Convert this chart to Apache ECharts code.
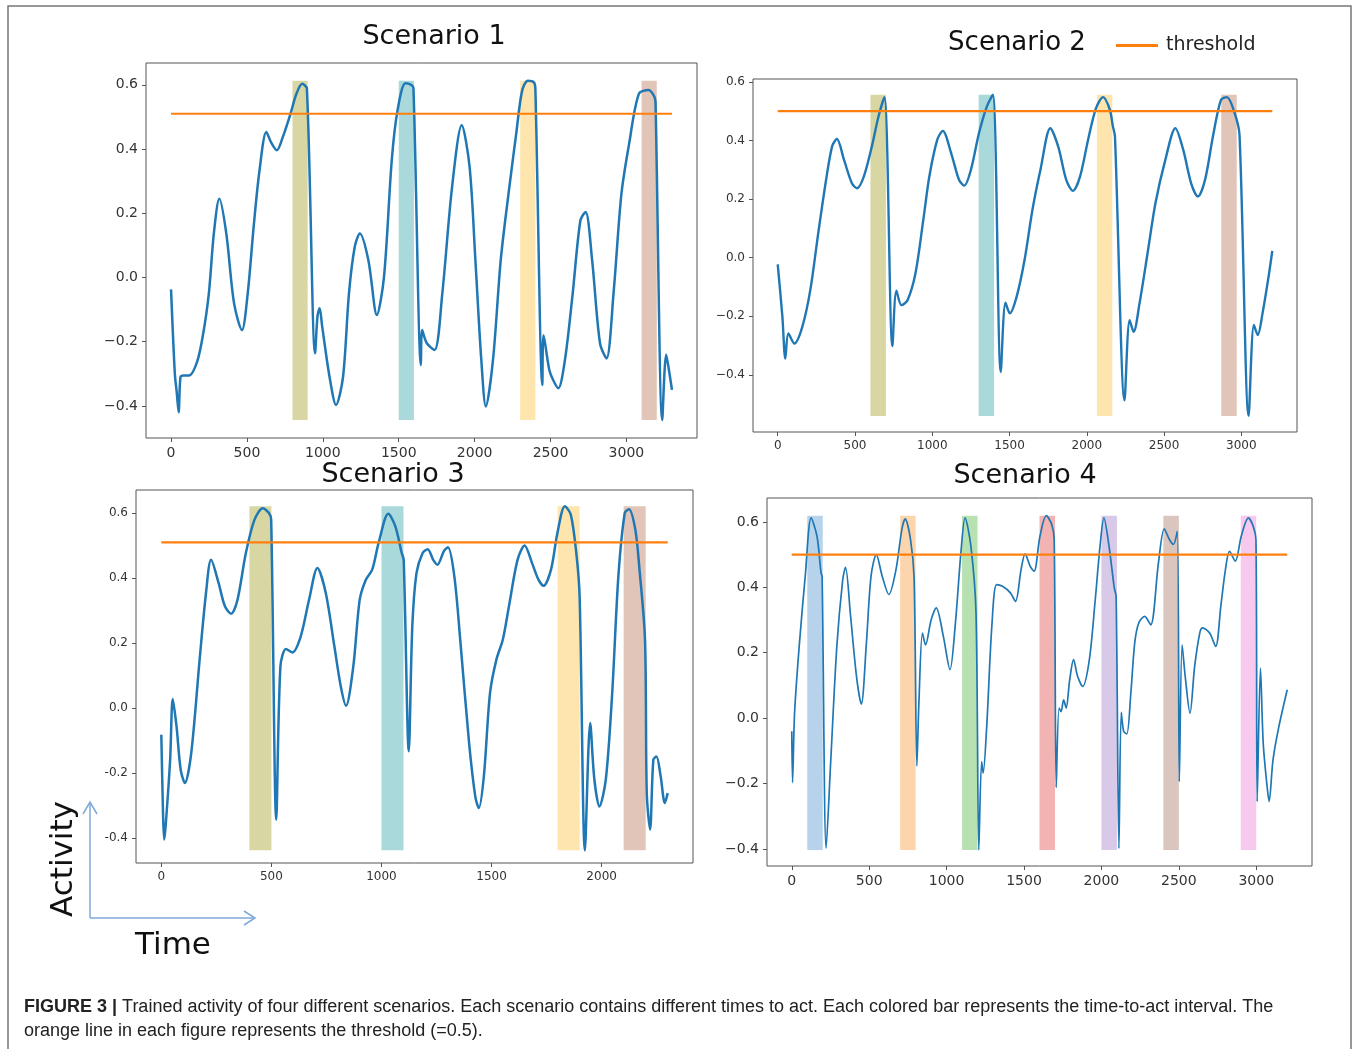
<!DOCTYPE html>
<html><head><meta charset="utf-8">
<script src="https://cdn.jsdelivr.net/npm/echarts@6/dist/echarts.min.js"></script>
<style>html,body{margin:0;padding:0;background:#fff}#c{width:1354px;height:1049px}</style>
</head><body><div id="c"></div>
<script>
// ---------- DATA ----------
const xTicksA = [0, 500, 1000, 1500, 2000, 2500, 3000];
const xTicksB = [0, 500, 1000, 1500, 2000];
const yTicks = [-0.4, -0.2, 0.0, 0.2, 0.4, 0.6];

const scen1Time = [0,25,38,50,62,80,120,172,210,249,282,318,364,415,467,505,544,582,628,660,697,736,787,826,864,895,949,965,979,995,1044,1087,1133,1172,1210,1244,1300,1356,1403,1454,1492,1544,1582,1597,1646,1654,1685,1736,1787,1851,1915,1967,2005,2044,2074,2121,2172,2223,2274,2313,2351,2390,2400,2446,2454,2492,2518,2551,2595,2646,2697,2731,2774,2826,2869,2915,2967,3018,3082,3146,3185,3192,3236,3262,3287,3300];
const scen1Act  = [-0.037,-0.3,-0.36,-0.42,-0.31,-0.305,-0.305,-0.262,-0.18,-0.05,0.137,0.245,0.137,-0.08,-0.164,-0.05,0.157,0.33,0.453,0.42,0.396,0.437,0.51,0.572,0.603,0.588,-0.236,-0.12,-0.096,-0.15,-0.309,-0.397,-0.31,-0.05,0.095,0.137,0.054,-0.117,0.002,0.365,0.52,0.605,0.6,0.59,-0.273,-0.164,-0.205,-0.226,-0.05,0.28,0.474,0.344,0.054,-0.257,-0.402,-0.257,0.054,0.26,0.448,0.582,0.613,0.608,0.59,-0.335,-0.18,-0.288,-0.32,-0.345,-0.257,-0.05,0.178,0.204,0.054,-0.205,-0.252,-0.05,0.26,0.417,0.572,0.584,0.562,0.54,-0.444,-0.241,-0.309,-0.35];
const scen1Bars = [[800,900],[1500,1600],[2300,2400],[3100,3200]];
const scen1Threshold = 0.51;

const scen2Time = [0,30,49,69,108,159,211,262,313,352,383,429,480,513,557,609,652,690,742,768,801,840,891,942,981,1032,1068,1122,1173,1207,1250,1302,1353,1392,1443,1474,1502,1546,1597,1648,1700,1764,1815,1867,1910,1956,2008,2059,2105,2149,2168,2182,2244,2277,2303,2341,2393,2444,2508,2573,2624,2675,2719,2765,2816,2868,2906,2957,2988,3047,3081,3106,3137,3176,3200];
const scen2Act  = [-0.023,-0.2,-0.344,-0.259,-0.293,-0.236,-0.11,0.083,0.266,0.38,0.405,0.334,0.254,0.237,0.277,0.38,0.482,0.548,-0.302,-0.113,-0.162,-0.145,-0.054,0.129,0.277,0.402,0.433,0.357,0.266,0.246,0.3,0.425,0.516,0.556,-0.39,-0.154,-0.19,-0.133,-0.008,0.163,0.3,0.442,0.379,0.266,0.228,0.277,0.402,0.51,0.548,0.505,0.45,0.414,-0.487,-0.213,-0.253,-0.156,0.015,0.186,0.334,0.442,0.368,0.254,0.209,0.266,0.414,0.539,0.548,0.493,0.419,-0.54,-0.23,-0.264,-0.19,-0.065,0.023];
const scen2Bars = [[600,700],[1300,1400],[2065,2165],[2870,2970]];
const scen2Threshold = 0.5;

const scen3Time = [0,8,13,20,40,52,69,88,107,136,174,203,226,260,289,317,346,384,423,461,489,499,522,541,566,595,633,671,709,747,786,815,839,872,901,929,958,987,1031,1063,1092,1101,1124,1140,1159,1187,1210,1235,1254,1283,1302,1331,1359,1398,1426,1442,1465,1493,1522,1551,1579,1618,1650,1684,1713,1736,1770,1799,1833,1860,1885,1900,1924,1948,1967,1990,2019,2048,2076,2105,2124,2153,2172,2197,2205,2220,2235,2249,2268,2287,2300];
const scen3Act  = [-0.082,-0.33,-0.405,-0.36,-0.16,0.028,-0.056,-0.19,-0.231,-0.138,0.149,0.354,0.456,0.385,0.313,0.29,0.333,0.477,0.579,0.615,0.6,0.579,-0.344,0.128,0.182,0.171,0.22,0.333,0.431,0.354,0.19,0.067,0.007,0.128,0.333,0.395,0.426,0.508,0.598,0.559,0.477,0.456,-0.133,0.251,0.415,0.477,0.489,0.456,0.441,0.482,0.495,0.405,0.2,-0.108,-0.272,-0.308,-0.21,0.046,0.149,0.21,0.313,0.456,0.5,0.446,0.395,0.376,0.426,0.538,0.621,0.595,0.477,0.344,-0.438,-0.046,-0.22,-0.303,-0.22,0.046,0.405,0.6,0.612,0.549,0.426,0.21,-0.262,-0.374,-0.159,-0.149,-0.21,-0.292,-0.262];
const scen3Bars = [[400,500],[1000,1100],[1800,1900],[2100,2200]];
const scen3Threshold = 0.51;

const scen4Time = [0,5,18,48,87,125,163,189,196,222,252,291,329,347,380,418,449,482,512,546,584,627,673,711,732,767,790,808,821,844,864,900,933,979,1022,1055,1094,1119,1157,1190,1208,1226,1236,1259,1292,1323,1361,1412,1445,1481,1507,1540,1565,1603,1644,1679,1695,1708,1726,1739,1756,1772,1795,1820,1846,1879,1922,1960,1991,2016,2049,2083,2095,2113,2128,2144,2164,2190,2215,2241,2279,2318,2368,2406,2439,2465,2490,2503,2521,2541,2572,2602,2635,2653,2699,2738,2771,2801,2827,2865,2903,2949,2980,2998,3006,3027,3045,3070,3083,3108,3146,3200];
const scen4Act  = [-0.04,-0.197,0.015,0.22,0.434,0.612,0.556,0.444,0.434,-0.398,-0.128,0.22,0.423,0.461,0.311,0.128,0.043,0.23,0.434,0.5,0.434,0.378,0.454,0.577,0.609,0.546,0.429,-0.146,0.046,0.26,0.224,0.3,0.337,0.25,0.148,0.28,0.515,0.612,0.525,0.321,-0.403,-0.133,-0.168,-0.026,0.28,0.408,0.403,0.383,0.357,0.454,0.502,0.464,0.449,0.556,0.619,0.592,0.546,-0.212,0.031,0.02,0.056,0.031,0.117,0.179,0.128,0.097,0.179,0.362,0.526,0.612,0.526,0.398,0.372,-0.398,0.018,-0.041,-0.048,0.077,0.23,0.291,0.311,0.285,0.474,0.579,0.546,0.531,0.571,-0.194,0.224,0.128,0.015,0.158,0.26,0.276,0.26,0.219,0.342,0.454,0.51,0.48,0.556,0.612,0.587,0.546,-0.255,0.153,-0.077,-0.209,-0.255,-0.128,-0.026,0.087];
const scen4Bars = [[100,200],[700,800],[1100,1200],[1600,1700],[2000,2100],[2400,2500],[2900,3000]];
const scen4Threshold = 0.5;

// ---------- STYLE ----------
const barColors123 = ['#d8d7a4', '#a9d9da', '#fde5ad', '#e0c5b8'];
const barColors4 = ['#b7d3ec', '#fdd5ad', '#b7e1b0', '#f2b3b3', '#d8c9e9', '#dbc6bf', '#f8c9ee'];
const BLUE = '#1f77b4', ORANGE = '#ff7f0e';

const panels = [
  {t: scen1Time, a: scen1Act, bars: scen1Bars, thr: scen1Threshold, colors: barColors123,
   grid: {left:146, top:63, width:551, height:375}, x:[-165,3465], y:[-0.5,0.668], xt: xTicksA, fs:14, minus:'\u2212', lw:2.5},
  {t: scen2Time, a: scen2Act, bars: scen2Bars, thr: scen2Threshold, colors: barColors123,
   grid: {left:753, top:79, width:544, height:353}, x:[-160,3360], y:[-0.595,0.61], xt: xTicksA, fs:12, minus:'\u2212', lw:2.4},
  {t: scen3Time, a: scen3Act, bars: scen3Bars, thr: scen3Threshold, colors: barColors123,
   grid: {left:136, top:490, width:557, height:373}, x:[-115,2415], y:[-0.477,0.671], xt: xTicksB, fs:12, minus:'-', lw:2.5},
  {t: scen4Time, a: scen4Act, bars: scen4Bars, thr: scen4Threshold, colors: barColors4,
   grid: {left:767, top:498, width:545, height:368}, x:[-160,3360], y:[-0.452,0.673], xt: xTicksA, fs:14, minus:'\u2212', lw:1.7}
];

const grid = [], xAxis = [], yAxis = [], series = [];
panels.forEach((p, i) => {
  grid.push(Object.assign({show:true, borderColor:'#555', borderWidth:1, backgroundColor:'#fff'}, p.grid));
  const lab = {color:'#333', fontSize:p.fs, fontFamily:'DejaVu Sans'};
  xAxis.push({type:'value', gridIndex:i, position:'bottom', min:p.x[0], max:p.x[1], splitLine:{show:false},
    axisLine:{show:false, onZero:false}, axisTick:{show:true, length:4, lineStyle:{color:'#555'}, customValues:p.xt},
    axisLabel:Object.assign({customValues:p.xt, margin:8, formatter:v=>String(v)}, lab)});
  yAxis.push({type:'value', gridIndex:i, position:'left', min:p.y[0], max:p.y[1], splitLine:{show:false},
    axisLine:{show:false, onZero:false}, axisTick:{show:true, length:4, lineStyle:{color:'#555'}, customValues:yTicks},
    axisLabel:Object.assign({customValues:yTicks, margin:8,
      formatter:v=>{const s=Math.abs(v).toFixed(1); return (v < -1e-9 ? p.minus : '') + s;}}, lab)});
  const lo = Math.min(...p.a), hi = Math.max(...p.a);
  series.push({type:'line', xAxisIndex:i, yAxisIndex:i, data:[], silent:true, z:1,
    markArea:{silent:true, data:p.bars.map((b,k)=>[
      {coord:[b[0], lo], itemStyle:{color:p.colors[k % p.colors.length], opacity:1}},
      {coord:[b[1], hi]}])}});
  series.push({type:'line', name:'activity', xAxisIndex:i, yAxisIndex:i, z:3, showSymbol:false, smooth:0.3,
    lineStyle:{color:BLUE, width:p.lw}, itemStyle:{color:BLUE},
    data:p.t.map((x,k)=>[x, p.a[k]])});
  series.push({type:'line', name:'threshold', xAxisIndex:i, yAxisIndex:i, z:4, showSymbol:false,
    lineStyle:{color:ORANGE, width:2.2}, itemStyle:{color:ORANGE},
    data:[[0,p.thr],[p.t[p.t.length-1],p.thr]]});
});

const titleFont = 'DejaVu Sans';
const arrowColor = '#7ea9da';
const option = {
  animation:false,
  backgroundColor:'#fff',
  grid, xAxis, yAxis, series,
  legend:{data:['threshold'], left:1111, top:31, itemWidth:42, itemHeight:3, icon:'rect',
    itemStyle:{color:ORANGE}, textStyle:{fontSize:19, fontFamily:titleFont, color:'#222', padding:[0,0,0,3]}},
  graphic:[
    {type:'rect', shape:{x:8, y:6, width:1343, height:1070}, style:{fill:'none', stroke:'#777', lineWidth:1.5}, silent:true},
    {type:'text', x:434, y:37, style:{text:'Scenario 1', font:'27px "DejaVu Sans"', fill:'#111', align:'center', verticalAlign:'middle'}},
    {type:'text', x:1017, y:43, style:{text:'Scenario 2', font:'26px "DejaVu Sans"', fill:'#111', align:'center', verticalAlign:'middle'}},
    {type:'text', x:393, y:475, style:{text:'Scenario 3', font:'27px "DejaVu Sans"', fill:'#111', align:'center', verticalAlign:'middle'}},
    {type:'text', x:1025, y:476, style:{text:'Scenario 4', font:'27px "DejaVu Sans"', fill:'#111', align:'center', verticalAlign:'middle'}},
    // Activity / Time guide
    {type:'polyline', shape:{points:[[90,918],[90,802]]}, style:{stroke:arrowColor, lineWidth:1.5, fill:null}},
    {type:'polyline', shape:{points:[[83,814],[90,802],[97,814]]}, style:{stroke:arrowColor, lineWidth:1.5, fill:null}},
    {type:'polyline', shape:{points:[[90,918],[255,918]]}, style:{stroke:arrowColor, lineWidth:1.5, fill:null}},
    {type:'polyline', shape:{points:[[244,911],[255,918],[244,925]]}, style:{stroke:arrowColor, lineWidth:1.5, fill:null}},
    {type:'text', x:64, y:859, rotation:Math.PI/2, style:{text:'Activity', font:'31px "DejaVu Sans"', fill:'#111', align:'center', verticalAlign:'middle'}},
    {type:'text', x:173, y:946, style:{text:'Time', font:'31px "DejaVu Sans"', fill:'#111', align:'center', verticalAlign:'middle'}},
    // caption
    {type:'text', x:24, y:1007, style:{
      text:'{b|FIGURE 3 |} Trained activity of four different scenarios. Each scenario contains different times to act. Each colored bar represents the time-to-act interval. The',
      font:'18px "Liberation Sans"', fill:'#222', verticalAlign:'middle',
      rich:{b:{font:'bold 18px "Liberation Sans"', fill:'#222'}}}},
    {type:'text', x:24, y:1031, style:{text:'orange line in each figure represents the threshold (=0.5).',
      font:'18px "Liberation Sans"', fill:'#222', verticalAlign:'middle'}}
  ]
};
const chart = echarts.init(document.getElementById('c'), null, {renderer:'canvas'});
chart.setOption(option);
</script></body></html>
